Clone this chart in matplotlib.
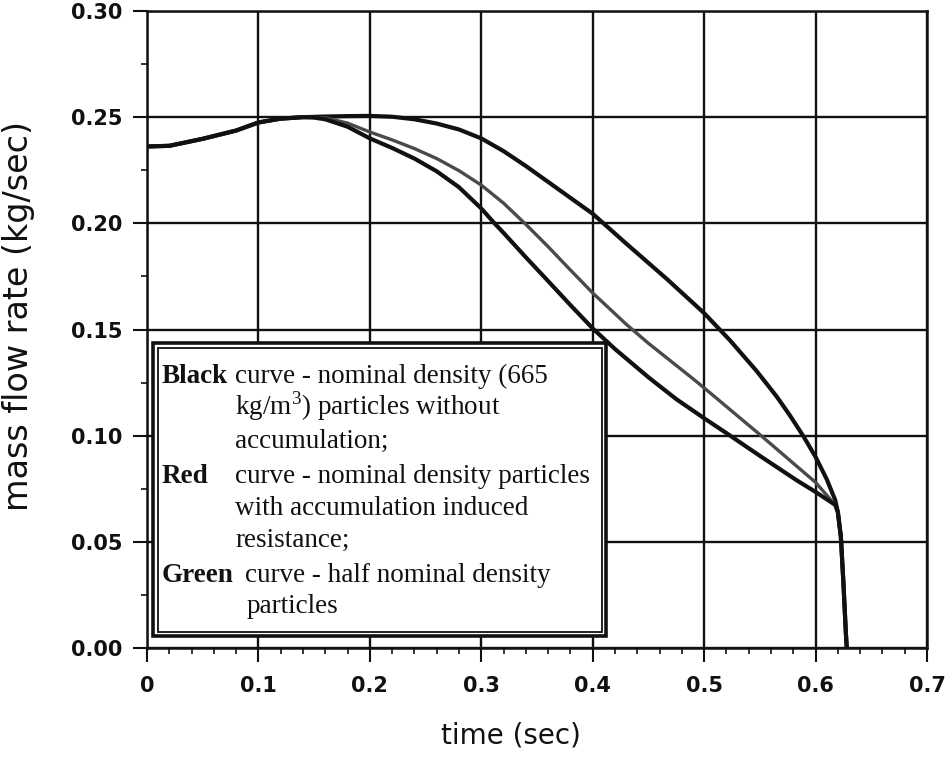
import matplotlib
matplotlib.use("Agg")
import matplotlib.pyplot as plt
from matplotlib.patches import Rectangle
from matplotlib.ticker import MultipleLocator

plt.rcParams["mathtext.fontset"] = "custom"
plt.rcParams["mathtext.rm"] = "Liberation Serif"

# time (sec) / mass flow rate (kg/sec) for the three discharge runs
t_upper = [0, 0.02, 0.05, 0.08, 0.10, 0.12, 0.14, 0.16, 0.18, 0.20, 0.22, 0.24,
           0.26, 0.28, 0.30, 0.32, 0.34, 0.36, 0.38, 0.40, 0.43, 0.4665, 0.50,
           0.523, 0.547, 0.565, 0.577, 0.589, 0.60, 0.61, 0.6176, 0.620, 0.6227,
           0.625, 0.6272, 0.628]
q_upper = [0.2362, 0.2365, 0.2398, 0.2437, 0.2475, 0.2493, 0.2500, 0.2503, 0.2505,
           0.2506, 0.2502, 0.2490, 0.2470, 0.2442, 0.2400, 0.2340, 0.2270, 0.2195,
           0.2120, 0.2045, 0.1905, 0.1738, 0.1577, 0.1450, 0.1305, 0.1185, 0.1095,
           0.0998, 0.0900, 0.0795, 0.0697, 0.0640, 0.0524, 0.0305, 0.0069, 0.0]

t_mid = [0, 0.02, 0.05, 0.08, 0.10, 0.12, 0.14, 0.16, 0.18, 0.20, 0.22, 0.24,
         0.26, 0.28, 0.30, 0.32, 0.34, 0.36, 0.38, 0.40, 0.43, 0.45, 0.49, 0.50,
         0.55, 0.60, 0.6176, 0.620, 0.6227, 0.625, 0.6272, 0.628]
q_mid = [0.2362, 0.2365, 0.2398, 0.2437, 0.2475, 0.2493, 0.2500, 0.2497, 0.2472,
         0.2430, 0.2393, 0.2352, 0.2305, 0.2248, 0.2180, 0.2095, 0.1995, 0.1890,
         0.1780, 0.1672, 0.1525, 0.1435, 0.1268, 0.1225, 0.1005, 0.0780, 0.0674,
         0.0640, 0.0524, 0.0305, 0.0069, 0.0]

t_lower = [0, 0.02, 0.05, 0.08, 0.10, 0.12, 0.14, 0.15, 0.16, 0.18, 0.20, 0.22,
           0.24, 0.26, 0.28, 0.30, 0.311, 0.32, 0.34, 0.36, 0.38, 0.40, 0.42, 0.45,
           0.475, 0.50, 0.52, 0.55, 0.583, 0.60, 0.6176, 0.620, 0.6227, 0.625,
           0.6272, 0.628]
q_lower = [0.2362, 0.2365, 0.2398, 0.2437, 0.2475, 0.2493, 0.2500, 0.2498, 0.2490,
           0.2455, 0.2400, 0.2355, 0.2305, 0.2245, 0.2170, 0.2070, 0.2005, 0.1955,
           0.1840, 0.1728, 0.1615, 0.1505, 0.1408, 0.1275, 0.1172, 0.1082, 0.1012,
           0.0905, 0.0790, 0.0735, 0.0674, 0.0640, 0.0524, 0.0305, 0.0069, 0.0]

x_ticks = [0, 0.1, 0.2, 0.3, 0.4, 0.5, 0.6, 0.7]
x_tick_labels = ["0", "0.1", "0.2", "0.3", "0.4", "0.5", "0.6", "0.7"]
y_ticks = [0.00, 0.05, 0.10, 0.15, 0.20, 0.25, 0.30]
y_tick_labels = ["0.00", "0.05", "0.10", "0.15", "0.20", "0.25", "0.30"]

W, H = 948, 760
fig = plt.figure(figsize=(W / 100, H / 100), dpi=100)
ax = fig.add_axes([147 / W, 1 - 648 / H, 780 / W, 637 / H])

ink = "#111111"
ax.plot(t_upper, q_upper, color=ink, lw=3.0, zorder=3, solid_capstyle="round")
ax.plot(t_mid, q_mid, color="#4a4a4a", lw=2.4, zorder=3)
ax.plot(t_lower, q_lower, color=ink, lw=3.0, zorder=3, solid_capstyle="round")

ax.set_xlim(0, 0.7)
ax.set_ylim(0, 0.30)
ax.set_xticks(x_ticks)
ax.set_xticklabels(x_tick_labels)
ax.set_yticks(y_ticks)
ax.set_yticklabels(y_tick_labels)
ax.xaxis.set_minor_locator(MultipleLocator(0.02))
ax.yaxis.set_minor_locator(MultipleLocator(0.025))

ax.grid(True, which="major", color=ink, lw=1.7, zorder=1)
ax.set_axisbelow(True)
for s in ax.spines.values():
    s.set_linewidth(1.8)
    s.set_color(ink)

ax.tick_params(which="major", direction="out", length=10, width=1.5, color=ink)
ax.tick_params(which="minor", direction="out", length=4, width=1.2, color=ink)
ax.tick_params(axis="y", which="major", pad=8)
ax.tick_params(axis="x", which="major", pad=10)
for lab in ax.get_xticklabels() + ax.get_yticklabels():
    lab.set_fontfamily("DejaVu Sans")
    lab.set_fontweight("bold")
    lab.set_fontsize(15)
    lab.set_color(ink)

ax.set_xlabel("time (sec)", fontsize=20, color=ink)
ax.set_ylabel("mass flow rate (kg/sec)", fontsize=24, color=ink)
ax.xaxis.set_label_coords(0.467, -0.116)
ax.yaxis.set_label_coords(-0.143, 0.521)

# legend box with double border, placed in figure pixels
def px_box(x0, y0, x1, y1, lw, z):
    r = Rectangle((x0 / W, 1 - y1 / H), (x1 - x0) / W, (y1 - y0) / H,
                  transform=fig.transFigure, facecolor="white", edgecolor=ink,
                  lw=lw, zorder=z, clip_on=False)
    ax.add_patch(r)

px_box(153, 343, 606, 636, 2.6, 2.4)
px_box(157.5, 348, 601.5, 631.5, 1.3, 2.5)

serif = "Liberation Serif"
fs = 19.5

def put(x, y, s, bold=False):
    ax.text(x / W, 1 - y / H, s, transform=fig.transFigure, fontsize=fs,
            family=serif, fontweight="bold" if bold else "normal",
            va="baseline", ha="left", color=ink, zorder=4)

put(162, 383, "Black", bold=True)
put(235, 383, "curve - nominal density (665")
put(235, 415, r"kg/m$^{\mathrm{3}}$) particles without")
put(235, 448, "accumulation;")
put(162, 483, "Red", bold=True)
put(235, 483, "curve - nominal density particles")
put(235, 515, "with accumulation induced")
put(235, 547, "resistance;")
put(162, 582, "Green", bold=True)
put(245, 582, "curve - half nominal density")
put(247, 613, "particles")

fig.savefig("out.png", dpi=100, facecolor="white")
